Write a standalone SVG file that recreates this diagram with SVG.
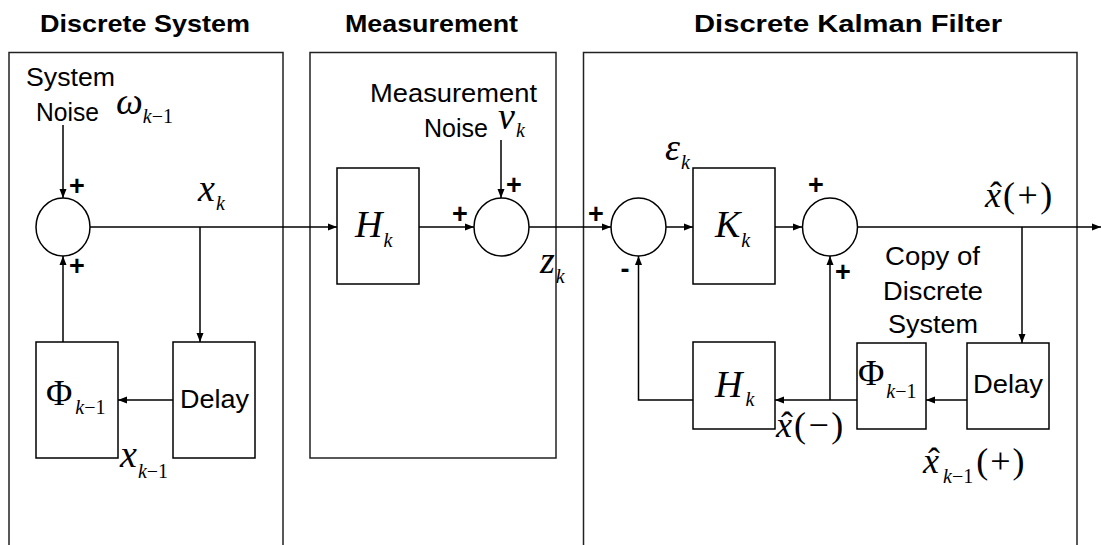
<svg xmlns="http://www.w3.org/2000/svg" width="1101" height="545" viewBox="0 0 1101 545">
<defs>
<style>
.sec{fill:none;stroke:#222;stroke-width:1.5}
.blk{fill:#fff;stroke:#000;stroke-width:1.5}
.c{fill:none;stroke:#000;stroke-width:1.5}
.ttl{font-family:"Liberation Sans",Arial,sans-serif;font-weight:bold;font-size:24px;fill:#000}
.t{font-family:"Liberation Sans",Arial,sans-serif;font-size:25px;fill:#000}
.sg{font-family:"Liberation Sans",Arial,sans-serif;font-weight:bold;font-size:27px;fill:#000;text-anchor:middle}
.m{font-family:"Liberation Serif","Times New Roman",serif;font-style:italic;font-size:38px;fill:#000}
.mu{font-family:"Liberation Serif","Times New Roman",serif;font-size:36px;fill:#000}
.s{font-family:"Liberation Serif","Times New Roman",serif;font-style:italic;font-size:20px;fill:#000}
.su{font-style:normal}
.it{font-style:italic}
</style>
<marker id="ah" markerWidth="10" markerHeight="8" refX="9" refY="4" orient="auto" markerUnits="userSpaceOnUse"><path d="M0,0.5 L9,4 L0,7.5 z" fill="#000"/></marker>
</defs>
<rect width="1101" height="545" fill="#fff"/>

<g id="titles">
<text class="ttl" x="40" y="32" textLength="210" lengthAdjust="spacingAndGlyphs">Discrete System</text>
<text class="ttl" x="345" y="32" textLength="173" lengthAdjust="spacingAndGlyphs">Measurement</text>
<text class="ttl" x="694" y="32" textLength="308" lengthAdjust="spacingAndGlyphs">Discrete Kalman Filter</text>
</g>

<g id="section-system"><path class="sec" d="M9,548 V52.5 H283 V548"/></g>
<g id="section-measurement"><rect class="sec" x="310" y="52.5" width="246" height="405.5"/></g>
<g id="section-kalman"><path class="sec" d="M583.5,548 V52.5 H1077 V548"/></g>

<g id="connectors" fill="none" stroke="#000" stroke-width="1.5">
<line x1="63" y1="125" x2="63" y2="198" marker-end="url(#ah)"/>
<line x1="63" y1="342" x2="63" y2="256" marker-end="url(#ah)"/>
<line x1="90" y1="227" x2="337" y2="227" marker-end="url(#ah)"/>
<line x1="200" y1="227" x2="200" y2="342" marker-end="url(#ah)"/>
<line x1="173" y1="400" x2="118" y2="400" marker-end="url(#ah)"/>
<line x1="419" y1="227" x2="474" y2="227" marker-end="url(#ah)"/>
<line x1="501" y1="140" x2="501" y2="198" marker-end="url(#ah)"/>
<line x1="529" y1="227" x2="611" y2="227" marker-end="url(#ah)"/>
<line x1="666" y1="227" x2="693" y2="227" marker-end="url(#ah)"/>
<line x1="775" y1="227" x2="802" y2="227" marker-end="url(#ah)"/>
<line x1="857" y1="227" x2="1101" y2="227" marker-end="url(#ah)"/>
<line x1="1022" y1="227" x2="1022" y2="343" marker-end="url(#ah)"/>
<line x1="967" y1="400" x2="926" y2="400" marker-end="url(#ah)"/>
<line x1="857" y1="400" x2="775" y2="400" marker-end="url(#ah)"/>
<line x1="830" y1="400" x2="830" y2="256" marker-end="url(#ah)"/>
<polyline points="693,400 638.5,400 638.5,256" marker-end="url(#ah)"/>
</g>

<g id="sum1"><ellipse class="c" cx="63" cy="227" rx="27" ry="29"/></g>
<g id="sum2"><ellipse class="c" cx="501.5" cy="227" rx="27.5" ry="29"/></g>
<g id="sum3"><ellipse class="c" cx="638.5" cy="227" rx="27.5" ry="29"/></g>
<g id="sum4"><ellipse class="c" cx="830" cy="227" rx="27.5" ry="29"/></g>

<g id="phi1"><rect class="blk" x="36" y="342" width="82" height="116"/>
<text class="mu" x="46" y="405">Φ<tspan class="s" dx="3" dy="9">k<tspan class="su">−1</tspan></tspan></text></g>
<g id="delay1"><rect class="blk" x="173" y="342" width="82" height="116"/>
<text class="t" x="180" y="408" font-size="27" textLength="69" lengthAdjust="spacingAndGlyphs">Delay</text></g>
<g id="h1"><rect class="blk" x="337" y="168" width="82" height="116"/>
<text class="m" x="355" y="237">H<tspan class="s" dx="1" dy="10">k</tspan></text></g>
<g id="kgain"><rect class="blk" x="693" y="168" width="82" height="116"/>
<text class="m" x="715" y="237">K<tspan class="s" dx="1" dy="10">k</tspan></text></g>
<g id="h2"><rect class="blk" x="693" y="342" width="82" height="87"/>
<text class="m" x="715" y="397">H<tspan class="s" dx="3" dy="9">k</tspan></text></g>
<g id="phi2"><rect class="blk" x="857" y="343" width="69" height="86"/>
<text class="mu" x="858" y="385">Φ<tspan class="s" dx="2" dy="13">k<tspan class="su">−1</tspan></tspan></text></g>
<g id="delay2"><rect class="blk" x="967" y="343" width="82" height="86"/>
<text class="t" x="973" y="393" font-size="27" textLength="70" lengthAdjust="spacingAndGlyphs">Delay</text></g>

<g id="labels">
<text class="t" x="26" y="86" textLength="89" lengthAdjust="spacingAndGlyphs">System</text>
<text class="t" x="36" y="121" textLength="63" lengthAdjust="spacingAndGlyphs">Noise</text>
<text class="m" x="116" y="114" font-size="40">ω<tspan class="s" dx="0" dy="9">k<tspan class="su">−1</tspan></tspan></text>
<text class="m" x="198" y="201" font-size="42">x<tspan class="s" dx="1" dy="9">k</tspan></text>
<text class="m" x="120" y="467" font-size="42">x<tspan class="s" dx="1" dy="11">k<tspan class="su">−1</tspan></tspan></text>
<text class="t" x="370" y="102" textLength="167" lengthAdjust="spacingAndGlyphs">Measurement</text>
<text class="t" x="424" y="137" textLength="64" lengthAdjust="spacingAndGlyphs">Noise</text>
<text class="m" x="498" y="129" font-size="36">v<tspan class="s" dx="1" dy="8">k</tspan></text>
<text class="m" x="540" y="273" font-size="38">z<tspan class="s" dx="1" dy="10">k</tspan></text>
<text class="m" x="665" y="160" font-size="38">ε<tspan class="s" dx="1" dy="9">k</tspan></text>
<text class="mu" x="985" y="207"><tspan class="it">x</tspan><tspan dx="-11">ˆ</tspan><tspan dx="1" letter-spacing="2.5">(+)</tspan></text>
<text class="t" x="885" y="265" textLength="95" lengthAdjust="spacingAndGlyphs">Copy of</text>
<text class="t" x="883" y="300" textLength="100" lengthAdjust="spacingAndGlyphs">Discrete</text>
<text class="t" x="888" y="333" textLength="90" lengthAdjust="spacingAndGlyphs">System</text>
<text class="mu" x="776" y="437"><tspan class="it">x</tspan><tspan dx="-11">ˆ</tspan><tspan dx="1" letter-spacing="2.5">(−)</tspan></text>
<text class="mu" x="923" y="473"><tspan class="it">x</tspan><tspan dx="-11">ˆ</tspan><tspan class="s" dx="3" dy="10">k<tspan class="su">−1</tspan></tspan><tspan dx="3" dy="-10" letter-spacing="2">(+)</tspan></text>
</g>

<g id="signs">
<text class="sg" x="77" y="195">+</text>
<text class="sg" x="77" y="275">+</text>
<text class="sg" x="514" y="194">+</text>
<text class="sg" x="460" y="223">+</text>
<text class="sg" x="596" y="223">+</text>
<text class="sg" x="625" y="278">-</text>
<text class="sg" x="816" y="194">+</text>
<text class="sg" x="843" y="281">+</text>
</g>
</svg>
